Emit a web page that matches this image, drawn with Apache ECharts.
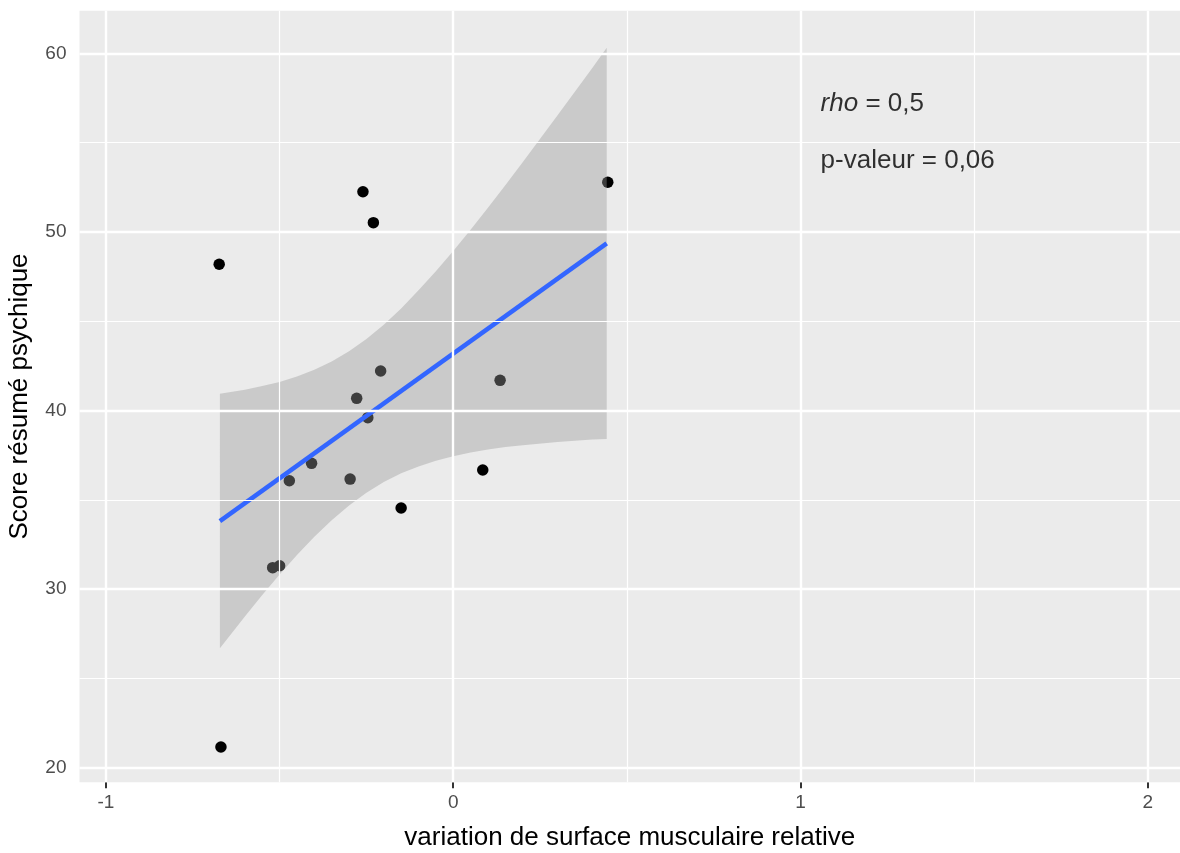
<!DOCTYPE html>
<html>
<head>
<meta charset="utf-8">
<title>Score résumé psychique</title>
<script src="https://cdn.jsdelivr.net/npm/echarts@6/dist/echarts.min.js"></script>
<style>
  html, body { margin: 0; padding: 0; background: #ffffff; }
  #chart { width: 1180px; height: 853px; }
</style>
</head>
<body>
<div id="chart"></div>
<script>
// Observations: relative muscle-area change vs. mental component score
const variation = [-0.674, -0.669, -0.260, -0.230, 0.445, -0.209, -0.278, -0.246,
                   0.135, -0.408, -0.472, -0.297, 0.085, -0.150, -0.520, -0.500];
const score = [48.19, 21.16, 52.25, 50.52, 52.78, 42.21, 40.68, 39.60,
               41.69, 37.04, 36.07, 36.16, 36.67, 34.54, 31.20, 31.31];

// Linear fit (endpoints) and its 95% confidence band
const fitX = [-0.672, 0.442];
const fitY = [33.81, 49.36];
const bandX = [-0.672, -0.6, -0.55, -0.5, -0.45, -0.4, -0.35, -0.3, -0.25, -0.2, -0.15,
               -0.1, -0.05, 0, 0.05, 0.1, 0.15, 0.2, 0.3, 0.4, 0.442];
const bandUpper = [40.94, 41.17, 41.37, 41.60, 41.91, 42.29, 42.75, 43.32, 44.01, 44.81, 45.72,
                   46.73, 47.80, 48.94, 50.13, 51.36, 52.62, 53.90, 56.52, 59.17, 60.32];
const bandLower = [26.68, 28.47, 29.67, 30.82, 31.91, 32.93, 33.85, 34.68, 35.39, 35.99, 36.48,
                   36.87, 37.18, 37.44, 37.65, 37.82, 37.96, 38.06, 38.24, 38.37, 38.40];

// Axis ticks
const xTicks = [-1, 0, 1, 2];
const xMinorTicks = [-0.5, 0.5, 1.5];
const yTicks = [20, 30, 40, 50, 60];
const yMinorTicks = [25, 35, 45, 55];

// Annotation texts
const rhoLabel = 'rho';
const rhoValue = '0,5';
const pLabel = 'p-valeur';
const pValue = '0,06';

const FONT = '"Liberation Sans", Arial, Helvetica, sans-serif';

const chart = echarts.init(document.getElementById('chart'), null, { renderer: 'canvas' });

function gridLines(values, dim) {
  return values.map(v => (dim === 'x' ? { xAxis: v } : { yAxis: v }));
}

const option = {
  animation: false,
  backgroundColor: '#ffffff',
  grid: {
    left: 79.5, right: 0, top: 10.7, bottom: 70.7,
    show: true, backgroundColor: '#EBEBEB', borderWidth: 0,
    containLabel: false, outerBoundsMode: 'none'
  },
  xAxis: {
    type: 'value',
    min: -1.0763, max: 2.093,
    axisLine: { show: false },
    axisTick: { show: true, customValues: xTicks, length: 6, lineStyle: { color: '#333333', width: 2 } },
    axisLabel: { customValues: xTicks, color: '#4D4D4D', fontSize: 19, fontFamily: FONT, margin: 11 },
    splitLine: { show: false },
    name: 'variation de surface musculaire relative',
    nameLocation: 'middle',
    nameGap: 43,
    nameTextStyle: { color: '#000000', fontSize: 26, fontFamily: FONT }
  },
  yAxis: {
    type: 'value',
    min: 19.18, max: 62.39,
    axisLine: { show: false },
    axisTick: { show: true, customValues: yTicks, length: 6, lineStyle: { color: '#333333', width: 2 } },
    axisLabel: { customValues: yTicks, color: '#4D4D4D', fontSize: 19, fontFamily: FONT, margin: 13 },
    splitLine: { show: false },
    name: 'Score résumé psychique',
    nameLocation: 'middle',
    nameGap: 47,
    nameTextStyle: { color: '#000000', fontSize: 26, fontFamily: FONT }
  },
  series: [
    {
      // panel grid: minor lines
      type: 'scatter', data: [], z: 1, silent: true,
      markLine: {
        silent: true, symbol: ['none', 'none'], label: { show: false }, animation: false,
        lineStyle: { color: '#ffffff', width: 1.2, type: 'solid', opacity: 1 },
        emphasis: { disabled: true },
        data: gridLines(xMinorTicks, 'x').concat(gridLines(yMinorTicks, 'y'))
      }
    },
    {
      // panel grid: major lines
      type: 'scatter', data: [], z: 1, silent: true,
      markLine: {
        silent: true, symbol: ['none', 'none'], label: { show: false }, animation: false,
        lineStyle: { color: '#ffffff', width: 2.4, type: 'solid', opacity: 1 },
        emphasis: { disabled: true },
        data: gridLines(xTicks, 'x').concat(gridLines(yTicks, 'y'))
      }
    },
    {
      name: 'observations',
      type: 'scatter',
      z: 2,
      symbol: 'circle',
      symbolSize: 11.5,
      itemStyle: { color: '#000000', opacity: 1 },
      data: variation.map((x, i) => [x, score[i]])
    },
    {
      name: 'confidence band',
      type: 'custom',
      z: 3,
      silent: true,
      data: bandX.map((x, i) => [x, bandLower[i], bandUpper[i]]),
      encode: { x: 0, y: [1, 2] },
      renderItem: function (params, api) {
        if (params.dataIndex !== 0) return null;
        const pts = [];
        for (let i = 0; i < bandX.length; i++) pts.push(api.coord([bandX[i], bandUpper[i]]));
        for (let i = bandX.length - 1; i >= 0; i--) pts.push(api.coord([bandX[i], bandLower[i]]));
        return {
          type: 'polygon',
          shape: { points: pts },
          style: { fill: 'rgba(153,153,153,0.4)', stroke: null }
        };
      }
    },
    {
      name: 'fit',
      type: 'line',
      z: 4,
      silent: true,
      showSymbol: false,
      lineStyle: { color: '#3366FF', width: 4.5, cap: 'butt' },
      data: fitX.map((x, i) => [x, fitY[i]])
    },
    {
      name: 'annotations',
      type: 'scatter',
      z: 5,
      silent: true,
      symbolSize: 0,
      label: {
        show: true, position: 'right', distance: 0,
        color: '#000000', fontSize: 26, fontFamily: FONT,
        textBorderWidth: 0,
        rich: {
          it: { fontStyle: 'italic', fontSize: 26, color: '#000000', fontFamily: FONT, textBorderWidth: 0 }
        }
      },
      data: [
        { value: [1.058, 57.18], label: { formatter: '{it|' + rhoLabel + '} = ' + rhoValue } },
        { value: [1.058, 54.0], label: { formatter: pLabel + ' = ' + pValue } }
      ]
    }
  ]
};

chart.setOption(option);
</script>
</body>
</html>
